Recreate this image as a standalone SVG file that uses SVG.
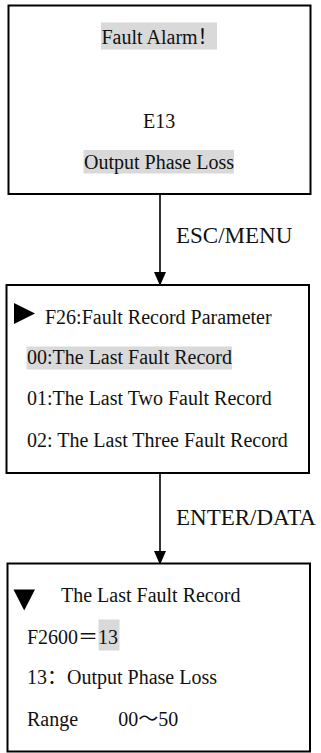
<svg xmlns="http://www.w3.org/2000/svg" width="321" height="753" viewBox="0 0 321 753">
<style>
.box{fill:#fff;stroke:#000;stroke-width:2}
.hl{fill:#d9d9d9}
.t{font-family:"Liberation Serif","Noto Sans CJK SC",serif;font-size:20px;fill:#111}
.lbl{font-family:"Liberation Serif","Noto Sans CJK SC",serif;font-size:23px;fill:#111}
.conn{stroke:#000;stroke-width:1.6;fill:none}
</style>
<defs>
<marker id="ah" markerWidth="14" markerHeight="16" refX="14" refY="7" orient="auto" markerUnits="userSpaceOnUse" viewBox="0 0 16 14">
<path d="M0,0 L16,7 L0,14 Z" fill="#000"/>
</marker>
</defs>
<g id="connectors">
<line class="conn" x1="160" y1="194" x2="160" y2="284" marker-end="url(#ah)"/>
<text class="lbl" x="176" y="243">ESC/MENU</text>
<line class="conn" x1="160" y1="473" x2="160" y2="563" marker-end="url(#ah)"/>
<text class="lbl" x="176" y="525">ENTER/DATA</text>
</g>
<g id="alarm">
<rect class="box" x="8.5" y="5.5" width="302" height="188.5"/>
<rect class="hl" x="101" y="22.5" width="116" height="27"/>
<text class="t" x="101.5" y="44">Fault Alarm！</text>
<text class="t" x="143" y="128">E13</text>
<rect class="hl" x="83.5" y="150" width="150.5" height="23.5"/>
<text class="t" x="84" y="169">Output Phase Loss</text>
</g>
<g id="record-menu">
<rect class="box" x="6.5" y="285" width="302.5" height="188"/>
<path d="M14,303 L35,313.5 L14,324 Z" fill="#000"/>
<text class="t" x="45" y="323.5">F26:Fault Record Parameter</text>
<rect class="hl" x="26.5" y="346.5" width="205.5" height="23"/>
<text class="t" x="27" y="364">00:The Last Fault Record</text>
<text class="t" x="27" y="405">01:The Last Two Fault Record</text>
<text class="t" x="27" y="447">02: The Last Three Fault Record</text>
</g>
<g id="last-record">
<rect class="box" x="7.5" y="563.5" width="302.5" height="188"/>
<path d="M13.5,589.5 L35,589.5 L24.2,610.5 Z" fill="#000"/>
<text class="t" x="61" y="602">The Last Fault Record</text>
<rect class="hl" x="98.5" y="619.5" width="21" height="31"/>
<text class="t" x="27" y="643.5">F2600＝13</text>
<text class="t" x="27" y="684">13：Output Phase Loss</text>
<text class="t" x="27" y="726">Range<tspan x="118.3">00～50</tspan></text>
</g>
</svg>
